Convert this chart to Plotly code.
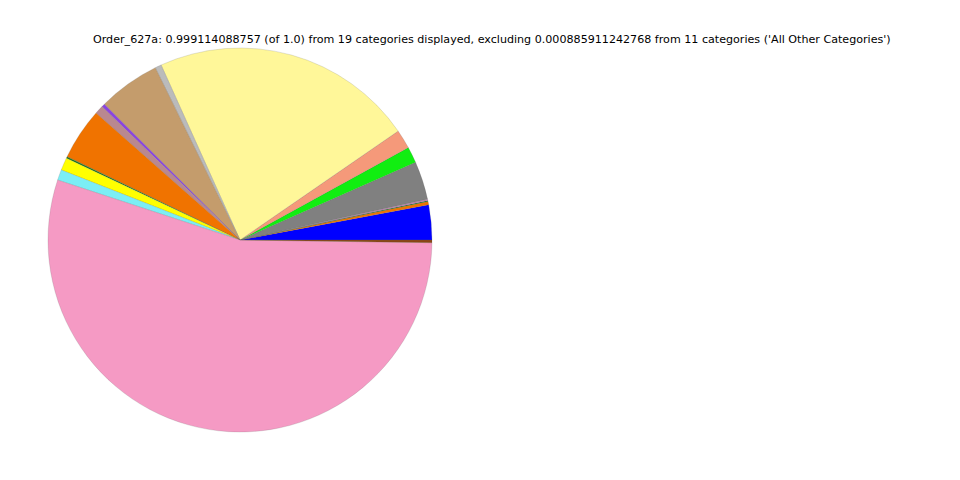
import plotly.graph_objects as go

labels = ["Blue", "Orange A", "Dark Green A", "Orchid", "Gray", "Green", "Salmon",
          "Light Yellow", "Silver", "Tan", "Purple", "Mauve", "Orange B",
          "Dark Green B", "Yellow", "Cyan", "Pink", "Brown"]
values = [0.0294, 0.0028, 0.0008, 0.0011, 0.0322, 0.0136, 0.0161,
          0.2214, 0.0053, 0.0522, 0.0028, 0.0072, 0.0436,
          0.0014, 0.0106, 0.0089, 0.5483, 0.0022]
colors = ["#0000ff", "#f07300", "#1f7a1f", "#d07fc0", "#808080", "#11ee11", "#f5997a",
          "#fff799", "#bbbbbb", "#c49c6c", "#8b44e0", "#b98890", "#f07300",
          "#1f7a1f", "#ffff00", "#7beef5", "#f59ac4", "#8b4513"]

title_text = ("Order_627a: 0.999114088757 (of 1.0) from 19 categories displayed, "
              "excluding 0.000885911242768 from 11 categories ('All Other Categories')")

# first slice should start at 3 o'clock, going counterclockwise
first_angle = values[0] / sum(values) * 360
rot = 90 - first_angle

fig = go.Figure(go.Pie(
    labels=labels, values=values, sort=False, direction="counterclockwise",
    rotation=rot, textinfo="none", showlegend=False,
    marker=dict(colors=colors, line=dict(color="rgba(90,90,90,0.35)", width=0.5)),
    domain=dict(x=[40/960, 424/960], y=[56/480, 440/480]),
))

fig.update_layout(
    width=960, height=480, margin=dict(l=0, r=0, t=0, b=0),
    paper_bgcolor="white", plot_bgcolor="white",
    annotations=[dict(text=title_text, x=484.5/960, y=1 - 32/480, xref="paper", yref="paper",
                      showarrow=False, xanchor="center", yanchor="middle",
                      font=dict(family="DejaVu Sans", size=11.12, color="black"))],
)

fig.write_html("out.html")
